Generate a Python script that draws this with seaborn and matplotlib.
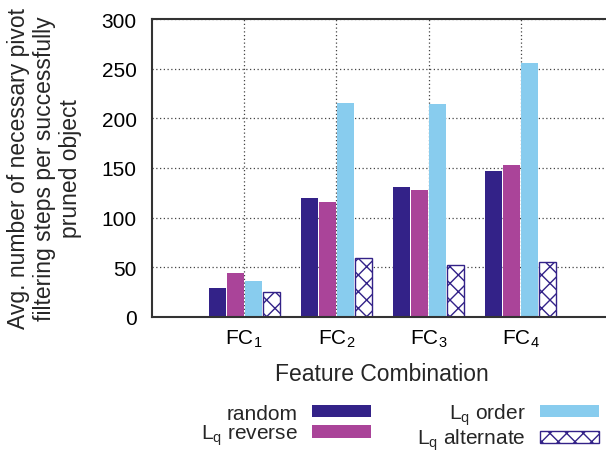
import matplotlib
matplotlib.use("Agg")
import matplotlib.pyplot as plt
from matplotlib.patches import Patch
import seaborn as sns
import pandas as pd

# Data: average pivot filtering steps per pruned object
combinations = ["FC$_1$", "FC$_2$", "FC$_3$", "FC$_4$"]
strategies = ["random", "L$_q$ reverse", "L$_q$ order", "L$_q$ alternate"]
random_vals = [29, 120, 131, 147]
reverse_vals = [44, 116, 128, 153]
order_vals = [36, 215, 214, 256]
alternate_vals = [25, 59, 52, 55]
y_ticks = [0, 50, 100, 150, 200, 250, 300]

colors = ["#332288", "#aa4499", "#88ccee", "#ffffff"]
hatch_color = "#332288"

series = [random_vals, reverse_vals, order_vals, alternate_vals]
df = pd.DataFrame(
    [(c, s, v) for s, vals in zip(strategies, series) for c, v in zip(combinations, vals)],
    columns=["combination", "strategy", "value"],
)

sns.set_style("white")
plt.rcParams["font.family"] = ["Liberation Sans", "DejaVu Sans"]
plt.rcParams["mathtext.fontset"] = "custom"
plt.rcParams["mathtext.rm"] = "Liberation Sans"
plt.rcParams["mathtext.default"] = "regular"
plt.rcParams["hatch.linewidth"] = 1.0

fig = plt.figure(figsize=(6.06, 4.52), dpi=100)
ax = fig.add_axes([152 / 606, 134 / 452, 1 - 152 / 606 + 0.01, 298 / 452])

sns.barplot(
    data=df, x="combination", y="value", hue="strategy",
    order=combinations, hue_order=strategies,
    palette=colors, saturation=1, width=0.78, gap=0.06,
    linewidth=0, legend=False, ax=ax,
)

# Cross-hatched style for the alternate ordering
n = len(combinations)
alt_patches = ax.patches[3 * n:4 * n]
for p in alt_patches:
    p.set_facecolor("white")
    p.set_edgecolor(hatch_color)
    p.set_hatch("xx")
    p.set_linewidth(1.0)

ax.set_xlim(-1, 3.99)
ax.set_ylim(0, 300)
ax.set_yticks(y_ticks)
ax.set_axisbelow(True)
ax.grid(True, linestyle=(0, (1, 2)), color="#444444", linewidth=0.9)

for side in ["left", "bottom", "top"]:
    ax.spines[side].set_visible(True)
    ax.spines[side].set_color("#333333")
    ax.spines[side].set_linewidth(1.5)
ax.spines["right"].set_visible(False)

ax.tick_params(axis="both", length=0, labelsize=15, colors="black")
ax.tick_params(axis="y", pad=11)
ax.tick_params(axis="x", pad=8)

ax.set_xlabel("Feature Combination", fontsize=16.5, labelpad=9)
ax.set_ylabel(
    "Avg. number of necessary pivot\nfiltering steps per successfully\npruned object",
    fontsize=16.5, linespacing=1.15,
)
ax.yaxis.set_label_coords(-0.153, 0.5)

handles = [
    Patch(facecolor=colors[0], edgecolor="none"),
    Patch(facecolor=colors[1], edgecolor="none"),
    Patch(facecolor=colors[2], edgecolor="none"),
    Patch(facecolor="white", edgecolor=hatch_color, hatch="xx", linewidth=1.0),
]
fig.legend(
    handles, strategies, ncol=2, markerfirst=False, frameon=False,
    loc="center", bbox_to_anchor=(400 / 606, 1 - 428 / 452),
    fontsize=15, handlelength=2.85, handleheight=0.53,
    handletextpad=0.67, columnspacing=2.2, labelspacing=0.0,
)

fig.savefig("out.png", dpi=100)
